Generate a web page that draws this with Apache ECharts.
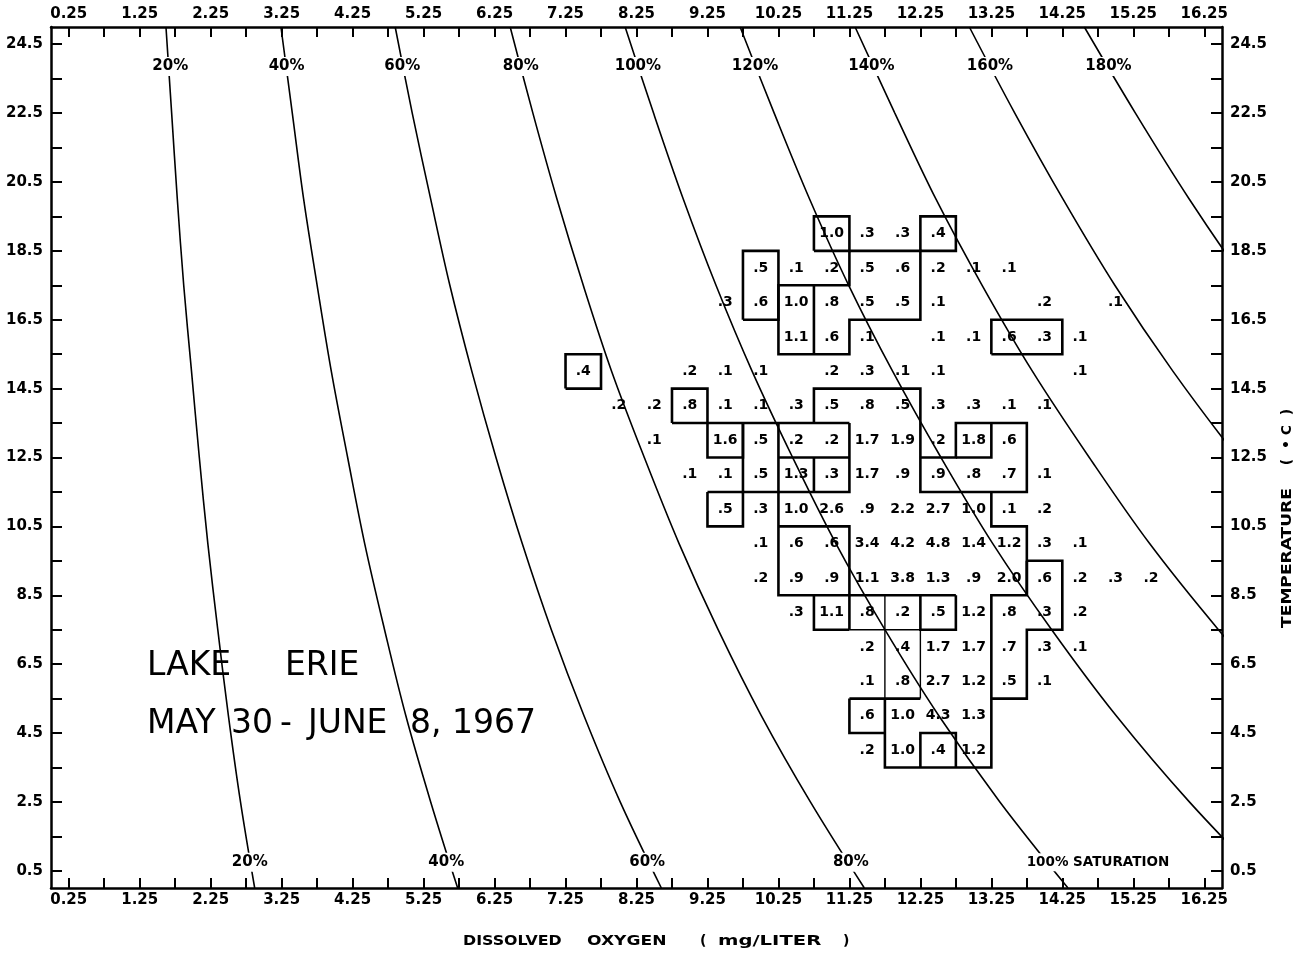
<!DOCTYPE html>
<html>
<head>
<meta charset="utf-8">
<script src="https://cdn.jsdelivr.net/npm/echarts@6/dist/echarts.min.js"></script>
<style>
html, body { margin: 0; padding: 0; background: #fff; }
#chart { width: 1295px; height: 954px; }
</style>
</head>
<body>
<div id="chart"></div>
<script>
// ---- Saturation curves: dissolved oxygen (mg/L) reached at each temperature (°C) ----
const curveTemps = [0, 2.5, 5, 7.5, 10, 12.5, 15, 17.5, 20, 22.5, 25];
const sat20  = [2.87, 2.67, 2.50, 2.35, 2.21, 2.09, 1.98, 1.87, 1.78, 1.70, 1.62];
const sat40  = [5.73, 5.35, 5.00, 4.70, 4.42, 4.18, 3.95, 3.75, 3.56, 3.40, 3.24];
const sat60  = [8.60, 8.02, 7.51, 7.05, 6.64, 6.27, 5.93, 5.62, 5.35, 5.09, 4.85];
const sat80  = [11.46, 10.70, 10.01, 9.40, 8.85, 8.36, 7.90, 7.50, 7.13, 6.79, 6.47];
const sat100 = [14.33, 13.37, 12.51, 11.75, 11.06, 10.45, 9.88, 9.37, 8.91, 8.49, 8.09];
const sat120 = [17.20, 16.04, 15.01, 14.10, 13.27, 12.54, 11.86, 11.24, 10.69, 10.19, 9.71];
const sat140 = [20.06, 18.72, 17.51, 16.45, 15.48, 14.63, 13.83, 13.12, 12.47, 11.89, 11.33];
const sat160 = [22.93, 21.39, 20.02, 18.80, 17.70, 16.72, 15.81, 14.99, 14.26, 13.58, 12.94];
const sat180 = [25.79, 24.07, 22.52, 21.15, 19.91, 18.81, 17.78, 16.87, 16.04, 15.28, 14.56];
const curveSets = [sat20, sat40, sat60, sat80, sat100, sat120, sat140, sat160, sat180];

// Curve captions
const topCaptions    = ['20%', '40%', '60%', '80%', '100%', '120%', '140%', '160%', '180%'];
const bottomCaptions = ['20%', '40%', '60%', '80%', '100% SATURATION'];

// ---- Percent of observations in each 0.5 mg/L x 1 °C cell ----
const doColumns = [7.5, 8.0, 8.5, 9.0, 9.5, 10.0, 10.5, 11.0, 11.5, 12.0, 12.5, 13.0, 13.5, 14.0, 14.5, 15.0, 15.5];
const rowTemps  = [19, 18, 17, 16, 15, 14, 13, 12, 11, 10, 9, 8, 7, 6, 5, 4];
const _ = null;
const row19 = [_, _, _, _, _, _, _, 1.0, .3, .3, .4, _, _, _, _, _, _];
const row18 = [_, _, _, _, _, .5, .1, .2, .5, .6, .2, .1, .1, _, _, _, _];
const row17 = [_, _, _, _, .3, .6, 1.0, .8, .5, .5, .1, _, _, .2, _, .1, _];
const row16 = [_, _, _, _, _, _, 1.1, .6, .1, _, .1, .1, .6, .3, .1, _, _];
const row15 = [.4, _, _, .2, .1, .1, _, .2, .3, .1, .1, _, _, _, .1, _, _];
const row14 = [_, .2, .2, .8, .1, .1, .3, .5, .8, .5, .3, .3, .1, .1, _, _, _];
const row13 = [_, _, .1, _, 1.6, .5, .2, .2, 1.7, 1.9, .2, 1.8, .6, _, _, _, _];
const row12 = [_, _, _, .1, .1, .5, 1.3, .3, 1.7, .9, .9, .8, .7, .1, _, _, _];
const row11 = [_, _, _, _, .5, .3, 1.0, 2.6, .9, 2.2, 2.7, 1.0, .1, .2, _, _, _];
const row10 = [_, _, _, _, _, .1, .6, .6, 3.4, 4.2, 4.8, 1.4, 1.2, .3, .1, _, _];
const row9  = [_, _, _, _, _, .2, .9, .9, 1.1, 3.8, 1.3, .9, 2.0, .6, .2, .3, .2];
const row8  = [_, _, _, _, _, _, .3, 1.1, .8, .2, .5, 1.2, .8, .3, .2, _, _];
const row7  = [_, _, _, _, _, _, _, _, .2, .4, 1.7, 1.7, .7, .3, .1, _, _];
const row6  = [_, _, _, _, _, _, _, _, .1, .8, 2.7, 1.2, .5, .1, _, _, _];
const row5  = [_, _, _, _, _, _, _, _, .6, 1.0, 4.3, 1.3, _, _, _, _, _];
const row4  = [_, _, _, _, _, _, _, _, .2, 1.0, .4, 1.2, _, _, _, _, _];
const cellRows = [row19, row18, row17, row16, row15, row14, row13, row12, row11, row10, row9, row8, row7, row6, row5, row4];

// ---- Group outlines along cell edges, [mg/L, °C] vertices ----
const heavyOutlines = [
  [[10.75, 18.5], [10.75, 19.5], [11.25, 19.5], [11.25, 18.5], [10.75, 18.5]],
  [[12.25, 18.5], [12.25, 19.5], [12.75, 19.5], [12.75, 18.5], [12.25, 18.5]],
  [[11.25, 18.5], [12.25, 18.5], [12.25, 16.5], [11.25, 16.5], [11.25, 15.5], [10.25, 15.5], [10.25, 17.5], [11.25, 17.5], [11.25, 18.5]],
  [[10.75, 15.5], [10.75, 17.5]],
  [[9.75, 16.5], [9.75, 18.5], [10.25, 18.5], [10.25, 16.5], [9.75, 16.5]],
  [[13.25, 15.5], [13.25, 16.5], [14.25, 16.5], [14.25, 15.5], [13.25, 15.5]],
  [[7.25, 14.5], [7.25, 15.5], [7.75, 15.5], [7.75, 14.5], [7.25, 14.5]],
  [[8.75, 13.5], [8.75, 14.5], [9.25, 14.5], [9.25, 12.5], [9.75, 12.5], [9.75, 13.5]],
  [[8.75, 13.5], [11.25, 13.5]],
  [[10.75, 13.5], [10.75, 14.5], [12.25, 14.5], [12.25, 11.5], [13.75, 11.5], [13.75, 13.5], [12.75, 13.5], [12.75, 12.5], [12.25, 12.5]],
  [[13.25, 13.5], [13.25, 12.5], [12.75, 12.5]],
  [[9.75, 13.5], [9.75, 11.5], [10.25, 11.5], [10.25, 13.5]],
  [[9.25, 11.5], [9.25, 10.5], [9.75, 10.5], [9.75, 11.5], [9.25, 11.5]],
  [[10.25, 12.5], [11.25, 12.5]],
  [[11.25, 13.5], [11.25, 11.5], [10.25, 11.5]],
  [[10.75, 11.5], [10.75, 12.5]],
  [[10.25, 11.5], [10.25, 8.5], [12.75, 8.5]],
  [[10.25, 10.5], [11.25, 10.5], [11.25, 7.5]],
  [[10.75, 8.5], [10.75, 7.5], [11.25, 7.5]],
  [[13.25, 11.5], [13.25, 10.5], [13.75, 10.5], [13.75, 8.5], [13.25, 8.5], [13.25, 3.5], [11.75, 3.5], [11.75, 5.5]],
  [[11.25, 5.5], [11.25, 4.5], [11.75, 4.5]],
  [[11.25, 5.5], [12.25, 5.5]],
  [[12.25, 3.5], [12.25, 4.5], [12.75, 4.5], [12.75, 3.5]],
  [[13.75, 9.5], [14.25, 9.5], [14.25, 7.5], [13.75, 7.5], [13.75, 5.5], [13.25, 5.5]],
  [[13.75, 9.5], [13.75, 8.5]],
  [[12.25, 8.5], [12.25, 7.5], [12.75, 7.5], [12.75, 8.5]]
];
const lightOutlines = [
  [[11.25, 7.5], [12.25, 7.5]],
  [[11.75, 8.5], [11.75, 5.5]],
  [[12.25, 7.5], [12.25, 5.5]]
];

// ---- Axis ticks and labels ----
const xTickValues = [0.25, 0.75, 1.25, 1.75, 2.25, 2.75, 3.25, 3.75, 4.25, 4.75, 5.25, 5.75, 6.25, 6.75, 7.25, 7.75,
  8.25, 8.75, 9.25, 9.75, 10.25, 10.75, 11.25, 11.75, 12.25, 12.75, 13.25, 13.75, 14.25, 14.75, 15.25, 15.75, 16.25];
const xLabelValues = [0.25, 1.25, 2.25, 3.25, 4.25, 5.25, 6.25, 7.25, 8.25, 9.25, 10.25, 11.25, 12.25, 13.25, 14.25, 15.25, 16.25];
const yTickValues = [0.5, 1.5, 2.5, 3.5, 4.5, 5.5, 6.5, 7.5, 8.5, 9.5, 10.5, 11.5, 12.5, 13.5, 14.5, 15.5, 16.5,
  17.5, 18.5, 19.5, 20.5, 21.5, 22.5, 23.5, 24.5];
const yLabelValues = [0.5, 2.5, 4.5, 6.5, 8.5, 10.5, 12.5, 14.5, 16.5, 18.5, 20.5, 22.5, 24.5];

// ---- Build chart ----
const INK = '#000';
const tickFont = { color: INK, fontFamily: 'DejaVu Sans', fontWeight: 'bold', fontSize: 15 };

function xAxisDef(position) {
  return {
    type: 'value', position: position, min: 0, max: 16.5,
    axisLine: { show: true, onZero: false, lineStyle: { color: INK, width: 2.5 } },
    axisTick: { show: true, inside: true, length: 10, customValues: xTickValues, lineStyle: { color: INK, width: 2 } },
    axisLabel: Object.assign({ show: true, customValues: xLabelValues, margin: 5, formatter: v => v.toFixed(2) }, tickFont),
    splitLine: { show: false }
  };
}
function yAxisDef(position) {
  return {
    type: 'value', position: position, min: 0, max: 25,
    axisLine: { show: true, onZero: false, lineStyle: { color: INK, width: 2.5 } },
    axisTick: { show: true, inside: true, length: 11, customValues: yTickValues, lineStyle: { color: INK, width: 2 } },
    axisLabel: Object.assign({ show: true, customValues: yLabelValues, margin: 8, formatter: v => v.toFixed(1) }, tickFont),
    splitLine: { show: false }
  };
}

function fmtPercent(v) {
  return v < 1 ? '.' + Math.round(v * 10) : v.toFixed(1);
}

// text drawn at a data point through the cartesian coordinate system;
// the strings come from a parallel list indexed by dataIndex
function textItem(texts, font, align, withBg) {
  return function (params, api) {
    const p = api.coord([api.value(0), api.value(1)]);
    const style = {
      text: texts[params.dataIndex], fill: INK, font: font,
      align: align, verticalAlign: 'middle'
    };
    if (withBg) { style.backgroundColor = '#fff'; style.padding = [2, 2]; }
    return { type: 'text', x: p[0], y: p[1], style: style };
  };
}

const series = [];

curveSets.forEach((vals, k) => {
  series.push({
    type: 'line', name: topCaptions[k], silent: true, smooth: 0.35, symbol: 'none', clip: true,
    lineStyle: { color: INK, width: 1.6 }, z: 2,
    data: curveTemps.map((t, i) => [vals[i], t])
  });
});

series.push({
  type: 'lines', coordinateSystem: 'cartesian2d', polyline: true, silent: true, z: 3,
  lineStyle: { color: INK, width: 2.6, opacity: 1 },
  data: heavyOutlines.map(c => ({ coords: c }))
});
series.push({
  type: 'lines', coordinateSystem: 'cartesian2d', polyline: true, silent: true, z: 3,
  lineStyle: { color: INK, width: 1.4, opacity: 1 },
  data: lightOutlines.map(c => ({ coords: c }))
});

const cellData = [];
const cellTexts = [];
cellRows.forEach((row, r) => {
  row.forEach((v, c) => {
    if (v !== null) {
      cellData.push([doColumns[c], rowTemps[r], v]);
      cellTexts.push(fmtPercent(v));
    }
  });
});
series.push({
  type: 'custom', silent: true, z: 4, clip: false,
  renderItem: textItem(cellTexts, 'bold 14px "DejaVu Sans"', 'center', false),
  data: cellData
});

// curve captions near the top and bottom edges
const topCaptionDO = [1.68, 3.32, 4.95, 6.62, 8.27, 9.92, 11.56, 13.23, 14.90];
const bottomCaptionDO = [2.80, 5.57, 8.40, 11.27, 13.72];
const captionTexts = topCaptions.concat(bottomCaptions.slice(0, 4));
const captionData = topCaptions.map((s, i) => [topCaptionDO[i], 23.85])
  .concat(bottomCaptions.slice(0, 4).map((s, i) => [bottomCaptionDO[i], 0.75]));
series.push({
  type: 'custom', silent: true, z: 5, clip: false,
  renderItem: textItem(captionTexts, 'bold 15px "DejaVu Sans"', 'center', true),
  data: captionData
});
series.push({
  type: 'custom', silent: true, z: 5, clip: false,
  renderItem: textItem([bottomCaptions[4]], 'bold 13.5px "DejaVu Sans"', 'left', true),
  data: [[bottomCaptionDO[4], 0.75]]
});

const bigText = { fill: INK, fontFamily: 'DejaVu Sans', fontSize: 33, textVerticalAlign: 'middle' };
const titleText = { fill: INK, fontFamily: 'DejaVu Sans', fontWeight: 'bold', fontSize: 14 };

const option = {
  animation: false,
  backgroundColor: '#fff',
  grid: { left: 51, right: 73, top: 27, bottom: 66, containLabel: false },
  xAxis: [xAxisDef('bottom'), xAxisDef('top')],
  yAxis: [yAxisDef('left'), yAxisDef('right')],
  series: series,
  graphic: [
    { type: 'text', left: 147, top: 650, style: Object.assign({ text: 'LAKE' }, bigText) },
    { type: 'text', left: 285, top: 650, style: Object.assign({ text: 'ERIE' }, bigText) },
    { type: 'text', left: 147, top: 708, style: Object.assign({ text: 'MAY' }, bigText) },
    { type: 'text', left: 231, top: 708, style: Object.assign({ text: '30' }, bigText) },
    { type: 'text', left: 280, top: 708, style: Object.assign({ text: '-' }, bigText) },
    { type: 'text', left: 308, top: 708, style: Object.assign({ text: 'JUNE' }, bigText) },
    { type: 'text', left: 410, top: 708, style: Object.assign({ text: '8, 1967' }, bigText) },
    { type: 'text', x: 463, y: 941, scaleX: 1.13,
      style: Object.assign({ text: 'DISSOLVED', textAlign: 'left', textVerticalAlign: 'middle' }, titleText) },
    { type: 'text', x: 587, y: 941, scaleX: 1.22,
      style: Object.assign({ text: 'OXYGEN', textAlign: 'left', textVerticalAlign: 'middle' }, titleText) },
    { type: 'text', x: 700, y: 941,
      style: Object.assign({ text: '(', textAlign: 'left', textVerticalAlign: 'middle' }, titleText) },
    { type: 'text', x: 718, y: 941, scaleX: 1.4,
      style: Object.assign({ text: 'mg/LITER', textAlign: 'left', textVerticalAlign: 'middle' }, titleText) },
    { type: 'text', x: 843, y: 941,
      style: Object.assign({ text: ')', textAlign: 'left', textVerticalAlign: 'middle' }, titleText) },
    { type: 'text', x: 1287, y: 558, rotation: Math.PI / 2, scaleX: 1.22,
      style: Object.assign({ text: 'TEMPERATURE', textAlign: 'center', textVerticalAlign: 'middle' }, titleText) },
    { type: 'text', x: 1287, y: 437, rotation: Math.PI / 2,
      style: Object.assign({ text: '(  \u2022 C  )', textAlign: 'center', textVerticalAlign: 'middle' }, titleText) }
  ]
};

const chart = echarts.init(document.getElementById('chart'), null, { renderer: 'canvas' });
chart.setOption(option);
</script>
</body>
</html>
